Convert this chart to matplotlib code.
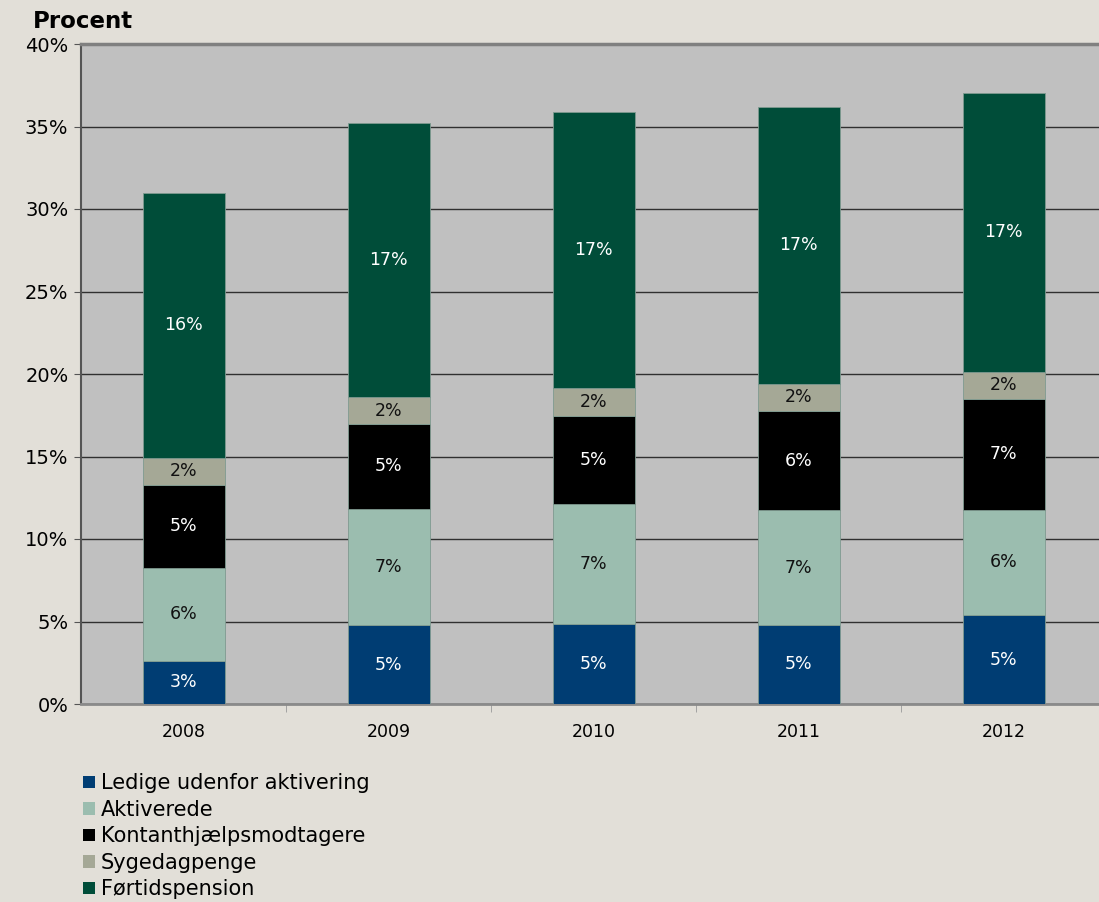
import numpy as np
import matplotlib.pyplot as plt
from matplotlib.patches import Patch

plt.rcParams['font.family'] = ['DejaVu Sans']

years = ['2008', '2009', '2010', '2011', '2012']
series = ['Ledige udenfor aktivering', 'Aktiverede', 'Kontanthjælpsmodtagere',
          'Sygedagpenge', 'Førtidspension']

ledige = [2.61, 4.77, 4.85, 4.79, 5.39]
aktiverede = [5.65, 7.07, 7.25, 6.95, 6.39]
kontant = [5.01, 5.11, 5.37, 6.02, 6.72]
syge = [1.66, 1.66, 1.70, 1.65, 1.64]
foertid = [16.02, 16.60, 16.73, 16.77, 16.91]

colors = ['#003d73', '#9bbdaf', '#000000', '#a5a896', '#004d39']
text_colors = ['white', '#111111', 'white', '#111111', 'white']

bg = '#e2dfd8'
fig = plt.figure(figsize=(10.99, 9.02), dpi=100, facecolor=bg)
ax = fig.add_axes([81 / 1099, 198 / 902, 1025 / 1099, 660 / 902])
ax.set_facecolor('#c0c0c0')

x = np.arange(len(years))
bottom = np.zeros(len(years))
for vals, name, c, tc in zip([ledige, aktiverede, kontant, syge, foertid],
                             series, colors, text_colors):
    vals = np.array(vals)
    ax.bar(x, vals, width=0.4, bottom=bottom, color=c, edgecolor='#7f9a90',
           linewidth=0.6, label=name, zorder=3)
    for xi, b, v in zip(x, bottom, vals):
        ax.text(xi, b + v / 2, f'{v:.0f}%', ha='center', va='center',
                color=tc, fontsize=12.5, zorder=4)
    bottom += vals

ax.set_xlim(-0.5, 4.5)
ax.set_ylim(0, 40)
ax.set_yticks(np.arange(0, 41, 5))
ax.set_yticklabels([f'{v}%' for v in range(0, 41, 5)], fontsize=14)
ax.set_xticks(x)
ax.set_xticklabels(years, fontsize=12.5)
ax.set_xticks(np.arange(0.5, 4.5, 1), minor=True)
ax.tick_params(axis='x', which='major', length=0, pad=14)
ax.tick_params(axis='x', which='minor', length=6, color='#999999', direction='out')
ax.tick_params(axis='y', length=5, color='#555555', pad=4)

ax.yaxis.grid(True, color='#303030', linewidth=1.0, zorder=1)
ax.set_axisbelow(True)
ax.spines['right'].set_visible(False)
ax.spines['top'].set_color('#808080')
ax.spines['top'].set_linewidth(2.5)
ax.spines['bottom'].set_color('#8a8a8a')
ax.spines['bottom'].set_linewidth(2)
ax.spines['left'].set_color('#555555')
ax.spines['left'].set_linewidth(1.5)

fig.text(33 / 1099, 1 - 21 / 902, 'Procent', fontsize=16.5, fontweight='bold',
         ha='left', va='center')

handles = [Patch(facecolor=c, edgecolor='none') for c in colors]
fig.legend(handles, series, loc='upper left', bbox_to_anchor=(75 / 1099, 1 - 765 / 902),
           frameon=False, fontsize=15, handlelength=0.55, handleheight=0.55,
           handletextpad=0.3, labelspacing=0.31, borderaxespad=0)

fig.savefig('out.png', dpi=100, facecolor=bg)
